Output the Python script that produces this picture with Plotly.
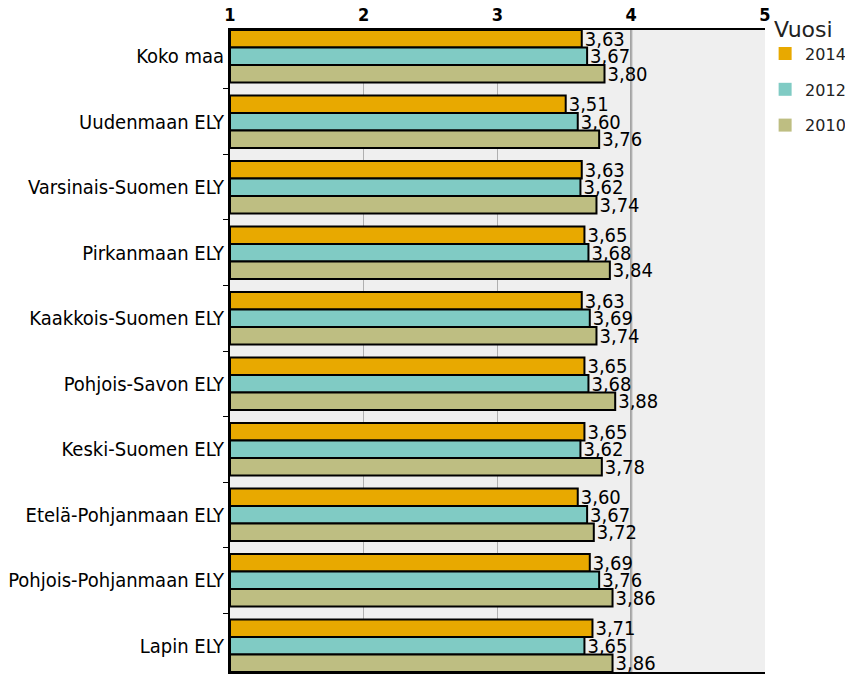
import plotly.graph_objects as go

categories = ["Koko maa", "Uudenmaan ELY", "Varsinais-Suomen ELY", "Pirkanmaan ELY",
              "Kaakkois-Suomen ELY", "Pohjois-Savon ELY", "Keski-Suomen ELY",
              "Etelä-Pohjanmaan ELY", "Pohjois-Pohjanmaan ELY", "Lapin ELY"]
v2014 = [3.63, 3.51, 3.63, 3.65, 3.63, 3.65, 3.65, 3.60, 3.69, 3.71]
v2012 = [3.67, 3.60, 3.62, 3.68, 3.69, 3.68, 3.62, 3.67, 3.76, 3.65]
v2010 = [3.80, 3.76, 3.74, 3.84, 3.74, 3.88, 3.78, 3.72, 3.86, 3.86]
series_names = ["2014", "2012", "2010"]
tick_vals = [1, 2, 3, 4, 5]
ref_value = 4

colors = ["#E8A900", "#80CBC4", "#BEBE82"]
FONT = "DejaVu Sans Condensed, DejaVu Sans"
BARGAP = 0.2

fig = go.Figure()
for name, vals, col in zip(series_names, [v2014, v2012, v2010], colors):
    fig.add_trace(go.Bar(
        y=categories, x=[v - 1 for v in vals], base=1, orientation="h", name=name,
        marker=dict(color=col, line=dict(color="black", width=2)),
        text=[f"{v:.2f}".replace(".", ",") for v in vals],
        textposition="outside", constraintext="none", cliponaxis=False,
        textfont=dict(family=FONT, size=20, color="black"),
        hoverinfo="skip", showlegend=False,
    ))
# legend entries (plain squares without outline)
for name, col in zip(series_names, colors):
    fig.add_trace(go.Scatter(y=[None], x=[None], mode="markers", name=name, legendgroup=name,
                             marker=dict(color=col, symbol="square", size=13, line=dict(width=0)),
                             showlegend=True))

fig.add_shape(type="line", xref="x", yref="paper", x0=ref_value, x1=ref_value, y0=0, y1=1,
              line=dict(color="#8a8a8a", width=2), layer="below")

n = len(categories)
fig.update_layout(
    width=845, height=667,
    margin=dict(l=222, r=88, t=22, b=3),
    paper_bgcolor="white", plot_bgcolor="#efefef",
    barmode="group", bargap=BARGAP, bargroupgap=0,
    font=dict(family=FONT, size=20, color="black"),
    xaxis=dict(range=[1, 5], side="top", tickvals=tick_vals, ticktext=[str(t) for t in tick_vals],
               tickfont=dict(family=FONT, size=18, color="black", weight="bold"),
               showgrid=True, gridcolor="#b0b0b0", gridwidth=1,
               showline=True, linecolor="black", linewidth=2, mirror=True,
               ticks="", ticklabelstandoff=0, zeroline=False,
               automargin=False),
    yaxis=dict(range=[n - 0.5 - BARGAP / 2, -0.5 + BARGAP / 2], tickson="boundaries",
               ticks="outside", ticklen=5,
               tickcolor="black", showline=True, linecolor="black", linewidth=2,
               tickfont=dict(family=FONT, size=20, color="black"), showgrid=False,
               automargin=False),
    legend=dict(xref="container", yref="container", x=0.896, y=1.0, xanchor="left", yanchor="top",
                title=dict(text="\u00a0Vuosi", font=dict(family="DejaVu Sans", size=22)),
                font=dict(family="DejaVu Sans", size=16, color="#222"),
                itemwidth=30, tracegroupgap=12, bgcolor="rgba(0,0,0,0)"),
    showlegend=True,
)

fig.write_html("out.html")
